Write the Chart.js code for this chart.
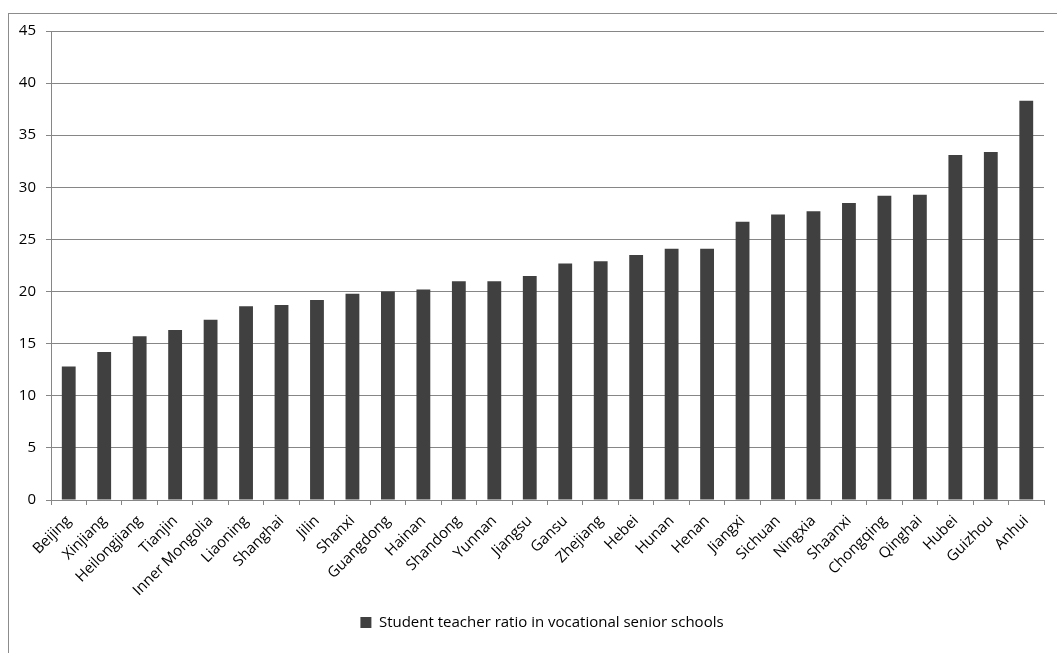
<!DOCTYPE html>
<html>
<head>
<meta charset="UTF-8">
<title>Student teacher ratio in vocational senior schools</title>
<script src="https://cdn.jsdelivr.net/npm/chart.js"></script>
<style>
    html, body { margin: 0; padding: 0; background: #fff; overflow: hidden; }
    .frame {
        position: absolute;
        left: 8px;
        top: 13px;
        width: 1100px;
        height: 700px;
        border-left: 1px solid #8c8c8c;
        border-top: 1px solid #8c8c8c;
    }
    .chart-box { position: absolute; left: 0; top: 0; width: 1057px; height: 653px; }
</style>
</head>
<body>
<div class="frame"></div>
<div class="chart-box"><canvas id="ratioChart" width="1057" height="653"></canvas></div>
<script>
// provinces, sorted by ratio
const provinces = ['Beijing', 'Xinjiang', 'Heilongjiang', 'Tianjin', 'Inner Mongolia', 'Liaoning',
    'Shanghai', 'Jilin', 'Shanxi', 'Guangdong', 'Hainan', 'Shandong', 'Yunnan', 'Jiangsu', 'Gansu',
    'Zhejiang', 'Hebei', 'Hunan', 'Henan', 'Jiangxi', 'Sichuan', 'Ningxia', 'Shaanxi', 'Chongqing',
    'Qinghai', 'Hubei', 'Guizhou', 'Anhui'];
const ratios = [12.8, 14.2, 15.7, 16.3, 17.3, 18.6, 18.7, 19.2, 19.8, 20.0, 20.2, 21.0, 21.0, 21.5,
    22.7, 22.9, 23.5, 24.1, 24.1, 26.7, 27.4, 27.7, 28.5, 29.2, 29.3, 33.1, 33.4, 38.3];
const seriesName = 'Student teacher ratio in vocational senior schools';
const yTicks = [0, 5, 10, 15, 20, 25, 30, 35, 40, 45];

const font = { family: '"Open Sans", Lato, sans-serif', size: 15 };
const gray = '#868686';

// legend sits centred under the plot area, not the whole canvas
const legendShift = {
    id: 'legendShift',
    afterLayout(chart) {
        chart.legend.left += 20;
        chart.legend.right += 20;
    }
};

new Chart(document.getElementById('ratioChart'), {
    type: 'bar',
    data: {
        labels: provinces,
        datasets: [{
            label: seriesName,
            data: ratios,
            backgroundColor: '#404040',
            borderColor: '#404040',
            borderWidth: 0,
            barPercentage: 0.39,
            categoryPercentage: 1
        }]
    },
    plugins: [legendShift],
    options: {
        responsive: false,
        animation: false,
        devicePixelRatio: 1,
        layout: { padding: { left: 0, right: 13, top: 31, bottom: 13 } },
        plugins: {
            tooltip: { enabled: false },
            legend: {
                position: 'bottom',
                labels: {
                    color: '#000',
                    font: font,
                    boxWidth: 11,
                    boxHeight: 11,
                    padding: 10
                }
            }
        },
        scales: {
            x: {
                grid: {
                    drawOnChartArea: false,
                    drawTicks: true,
                    tickLength: 5,
                    color: gray,
                    offset: true
                },
                border: { color: gray, width: 1 },
                ticks: {
                    color: '#000',
                    font: font,
                    autoSkip: false,
                    minRotation: 45,
                    maxRotation: 45,
                    padding: 7
                },
                afterFit: (scale) => { scale.height = 105; }
            },
            y: {
                min: 0,
                max: 45,
                afterBuildTicks: (scale) => { scale.ticks = yTicks.map(v => ({ value: v })); },
                grid: {
                    color: gray,
                    tickLength: 5,
                    drawTicks: true
                },
                border: { color: gray, width: 1 },
                ticks: {
                    color: '#000',
                    font: font,
                    padding: 10
                },
                afterFit: (scale) => { scale.width = 51; }
            }
        }
    }
});
</script>
</body>
</html>
